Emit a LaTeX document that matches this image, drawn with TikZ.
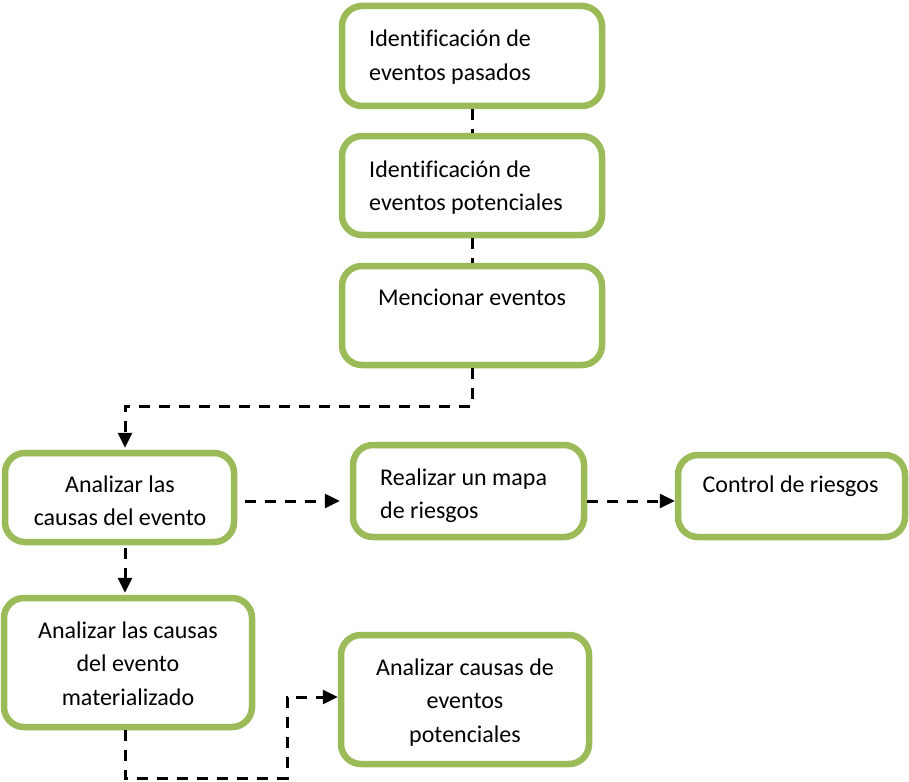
\documentclass[tikz,border=0pt]{standalone}
\usepackage{fontspec}
\setmainfont{Carlito}[Ligatures=NoCommon]
\usetikzlibrary{arrows.meta}
\definecolor{boxgreen}{HTML}{9BBB59}
% stacked lines whose first baseline is the node's base
\newcommand{\stacklines}[2]{\begin{tabular}[t]{@{}#1@{}}#2\end{tabular}}
\begin{document}
\begin{tikzpicture}[x=1pt,y=-1pt,
  box/.style={draw=boxgreen, line width=6.5pt, rounded corners=20pt, fill=white, inner sep=0pt},
  txt/.style={inner sep=0pt, font=\fontsize{24}{33.5}\selectfont},
  conn/.style={line width=3pt, dash pattern=on 11pt off 9pt},
  arr/.style={conn, -{Triangle[length=15pt,width=14pt]}}]
\useasboundingbox (0,0) rectangle (909,781);

% boxes
\node[box, minimum width=260pt, minimum height=100pt] (b1) at (472,56) {};
\node[box, minimum width=260pt, minimum height=99pt]  (b2) at (472,185.5) {};
\node[box, minimum width=260pt, minimum height=99pt]  (b3) at (472,315.5) {};
\node[box, minimum width=229pt, minimum height=89pt]  (b4) at (119.5,497.5) {};
\node[box, minimum width=231pt, minimum height=92pt]  (b5) at (468.5,491) {};
\node[box, minimum width=227pt, minimum height=82pt]  (b6) at (791.5,496) {};
\node[box, minimum width=248pt, minimum height=129pt] (b7) at (128,662.5) {};
\node[box, minimum width=248pt, minimum height=129pt] (b8) at (465,699.5) {};

% texts
\node[txt, anchor=base west] (t1) at (369,47) {\stacklines{l}{Identificación de\\eventos pasados}};
\node[txt, anchor=base west] (t2) at (369,177) {\stacklines{l}{Identificación de\\eventos potenciales}};
\node[txt, anchor=base] (t3) at (472,305) {Mencionar eventos};
\node[txt, anchor=base] (t4) at (120,492) {\stacklines{c}{Analizar las\\causas del evento}};
\node[txt, anchor=base west] (t5) at (380,485) {\stacklines{l}{Realizar un mapa\\de riesgos}};
\node[txt, anchor=base] (t6) at (790.5,492) {Control de riesgos};
\node[txt, anchor=base] (t7) at (128,638) {\stacklines{c}{Analizar las causas\\del evento\\materializado}};
\node[txt, anchor=base] (t8) at (465,675) {\stacklines{c}{Analizar causas de\\eventos\\potenciales}};

% bend points of the connectors
\coordinate (k3) at (125,406);
\coordinate (k45) at (0,501);
\coordinate (k7a) at (125,778);
\coordinate (k7b) at (287,697);

% connectors
\draw[conn] (b1) -- (b2);
\draw[conn] (b2) -- (b3);
\draw[arr, shorten >=2pt] (b3.south) |- (k3) -- (k3 |- b4.north);
\draw[arr, shorten <=8pt, shorten >=10pt] (b4.east |- k45) -- (b5.west |- k45);
\draw[arr] (b5.east |- k45) -- (b6.west |- k45);
\draw[arr, shorten <=3pt, shorten >=2pt] (k3 |- b4.south) -- (k3 |- b7.north);
\draw[arr] (k3 |- b7.south) -- (k7a) -| (k7b) -- (b8.west |- k7b);
\end{tikzpicture}
\end{document}
